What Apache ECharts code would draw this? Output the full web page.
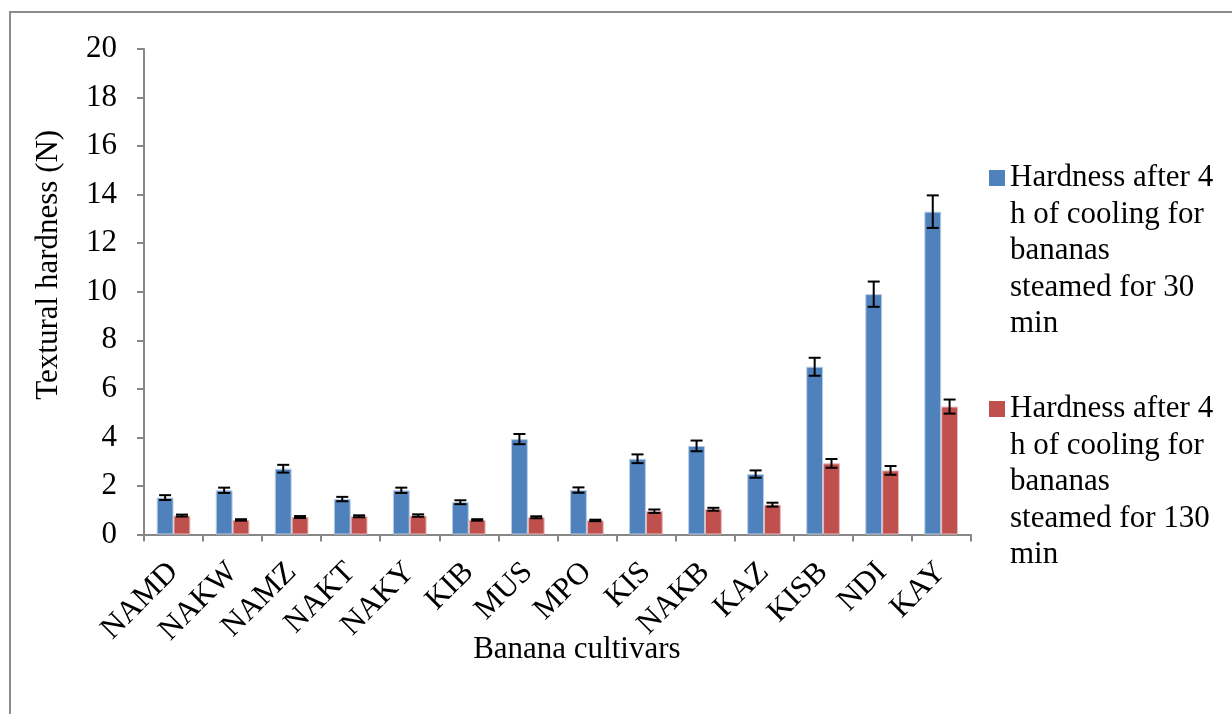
<!DOCTYPE html>
<html>
<head>
<meta charset="utf-8">
<script src="https://cdn.jsdelivr.net/npm/echarts@6/dist/echarts.min.js"></script>
<style>html,body{margin:0;padding:0;background:#fff;}#c{width:1232px;height:714px;}</style>
</head>
<body>
<div id="c"></div>
<script>
var categories = ['NAMD','NAKW','NAMZ','NAKT','NAKY','KIB','MUS','MPO','KIS','NAKB','KAZ','KISB','NDI','KAY'];
var hard30 = [1.52,1.82,2.71,1.46,1.82,1.33,3.93,1.83,3.12,3.65,2.49,6.91,9.90,13.30];
var err30 = [0.10,0.11,0.16,0.09,0.11,0.08,0.21,0.11,0.18,0.22,0.15,0.37,0.52,0.67];
var hard130 = [0.78,0.60,0.72,0.75,0.78,0.60,0.71,0.58,0.96,1.04,1.23,2.93,2.64,5.27];
var err130 = [0.04,0.03,0.04,0.04,0.05,0.03,0.04,0.03,0.07,0.06,0.08,0.18,0.18,0.29];
var yTicks = [0,2,4,6,8,10,12,14,16,18,20];
var lines30 = ['Hardness after 4','h of cooling for','bananas','steamed for 30','min'];
var lines130 = ['Hardness after 4','h of cooling for','bananas','steamed for 130','min'];

var FONT = "'Liberation Serif', 'Times New Roman', serif";
var FS = 31;
var CAT_GAP = 0.43;
var LH = 36.5;

function errData(vals, errs){
  return vals.map(function(v,i){ return [i, v, errs[i]]; });
}
function errRender(sign){
  return function(params, api){
    var i = api.value(0), v = api.value(1), e = api.value(2);
    var band = api.size([1,0])[0];
    var barW = band*(1-CAT_GAP)/2;
    var x = api.coord([i, v])[0] + sign*barW/2;
    var yT = api.coord([i, v+e])[1], yB = api.coord([i, v-e])[1];
    var cap = 6;
    var st = {stroke:'#000', lineWidth:2};
    return {type:'group', children:[
      {type:'line', shape:{x1:x,y1:yT,x2:x,y2:yB}, style:st},
      {type:'line', shape:{x1:x-cap,y1:yT,x2:x+cap,y2:yT}, style:st},
      {type:'line', shape:{x1:x-cap,y1:yB,x2:x+cap,y2:yB}, style:st}
    ]};
  };
}
var blockH = LH*5;
var sqTop = LH/2 - 8, sqBot = LH/2 + 8;
var iconPath = 'path://M0,0L0,0M0,' + blockH + 'L0,' + blockH +
  'M0,' + sqTop + 'L16,' + sqTop + 'L16,' + sqBot + 'L0,' + sqBot + 'Z';
var richT = {t:{fontFamily:FONT, fontSize:FS, color:'#000', lineHeight:LH}};
function legendCfg(name, lines, top){
  return {data:[name], left:989, top:top, padding:0, itemWidth:16, itemHeight:blockH,
    icon:iconPath, itemStyle:{borderWidth:0},
    formatter:function(){ return lines.map(function(l){return '{t|'+l+'}';}).join('\n'); },
    textStyle:{fontFamily:FONT, fontSize:FS, color:'#000', lineHeight:LH, rich:richT}};
}

var chart = echarts.init(document.getElementById('c'), null, {renderer:'canvas'});
chart.setOption({
  animation:false,
  backgroundColor:'#fff',
  textStyle:{fontFamily:FONT},
  graphic:[{type:'rect', shape:{x:10,y:12,width:1240,height:720}, style:{fill:'none', stroke:'#8c8c8c', lineWidth:2}, silent:true}],
  grid:{left:144, right:261.3, top:49, bottom:179.5, containLabel:false},
  legend:[
    legendCfg('h30', lines30, 178 - LH/2),
    legendCfg('h130', lines130, 409 - LH/2)
  ],
  xAxis:{
    type:'category', data:categories,
    name:'Banana cultivars', nameLocation:'middle', nameGap:100, nameMoveOverlap:false,
    nameTextStyle:{fontFamily:FONT, fontSize:FS, color:'#000', padding:[0,0,0,39]},
    axisLine:{lineStyle:{color:'#878787', width:2}},
    axisTick:{show:true, length:7, lineStyle:{color:'#878787', width:2}, alignWithLabel:false},
    axisLabel:{rotate:45, margin:33, fontFamily:FONT, fontSize:FS, color:'#000', interval:0}
  },
  yAxis:{
    type:'value', min:0, max:20, interval:2,
    name:'Textural hardness (N)', nameLocation:'middle', nameGap:80,
    nameTextStyle:{fontFamily:FONT, fontSize:FS, color:'#000', padding:[0,0,0,54]},
    axisLine:{show:true, lineStyle:{color:'#878787', width:2}},
    axisTick:{show:true, length:7, lineStyle:{color:'#878787', width:2}},
    splitLine:{show:false},
    axisLabel:{margin:27, fontFamily:FONT, fontSize:FS, color:'#000',
      formatter:function(v){ return yTicks.indexOf(v)>=0 ? String(v) : ''; }}
  },
  series:[
    {name:'h30', type:'bar', data:hard30, barGap:'0%', barCategoryGap:(CAT_GAP*100)+'%',
     itemStyle:{color:'#4F81BD', borderColor:'#b8cce4', borderWidth:1}},
    {name:'h130', type:'bar', data:hard130, barGap:'0%', barCategoryGap:(CAT_GAP*100)+'%',
     itemStyle:{color:'#C0504D', borderColor:'#e6b9b8', borderWidth:1}},
    {name:'e30', type:'custom', data:errData(hard30, err30), encode:{x:0,y:1}, renderItem:errRender(-1), z:5},
    {name:'e130', type:'custom', data:errData(hard130, err130), encode:{x:0,y:1}, renderItem:errRender(1), z:5}
  ]
});
</script>
</body>
</html>
